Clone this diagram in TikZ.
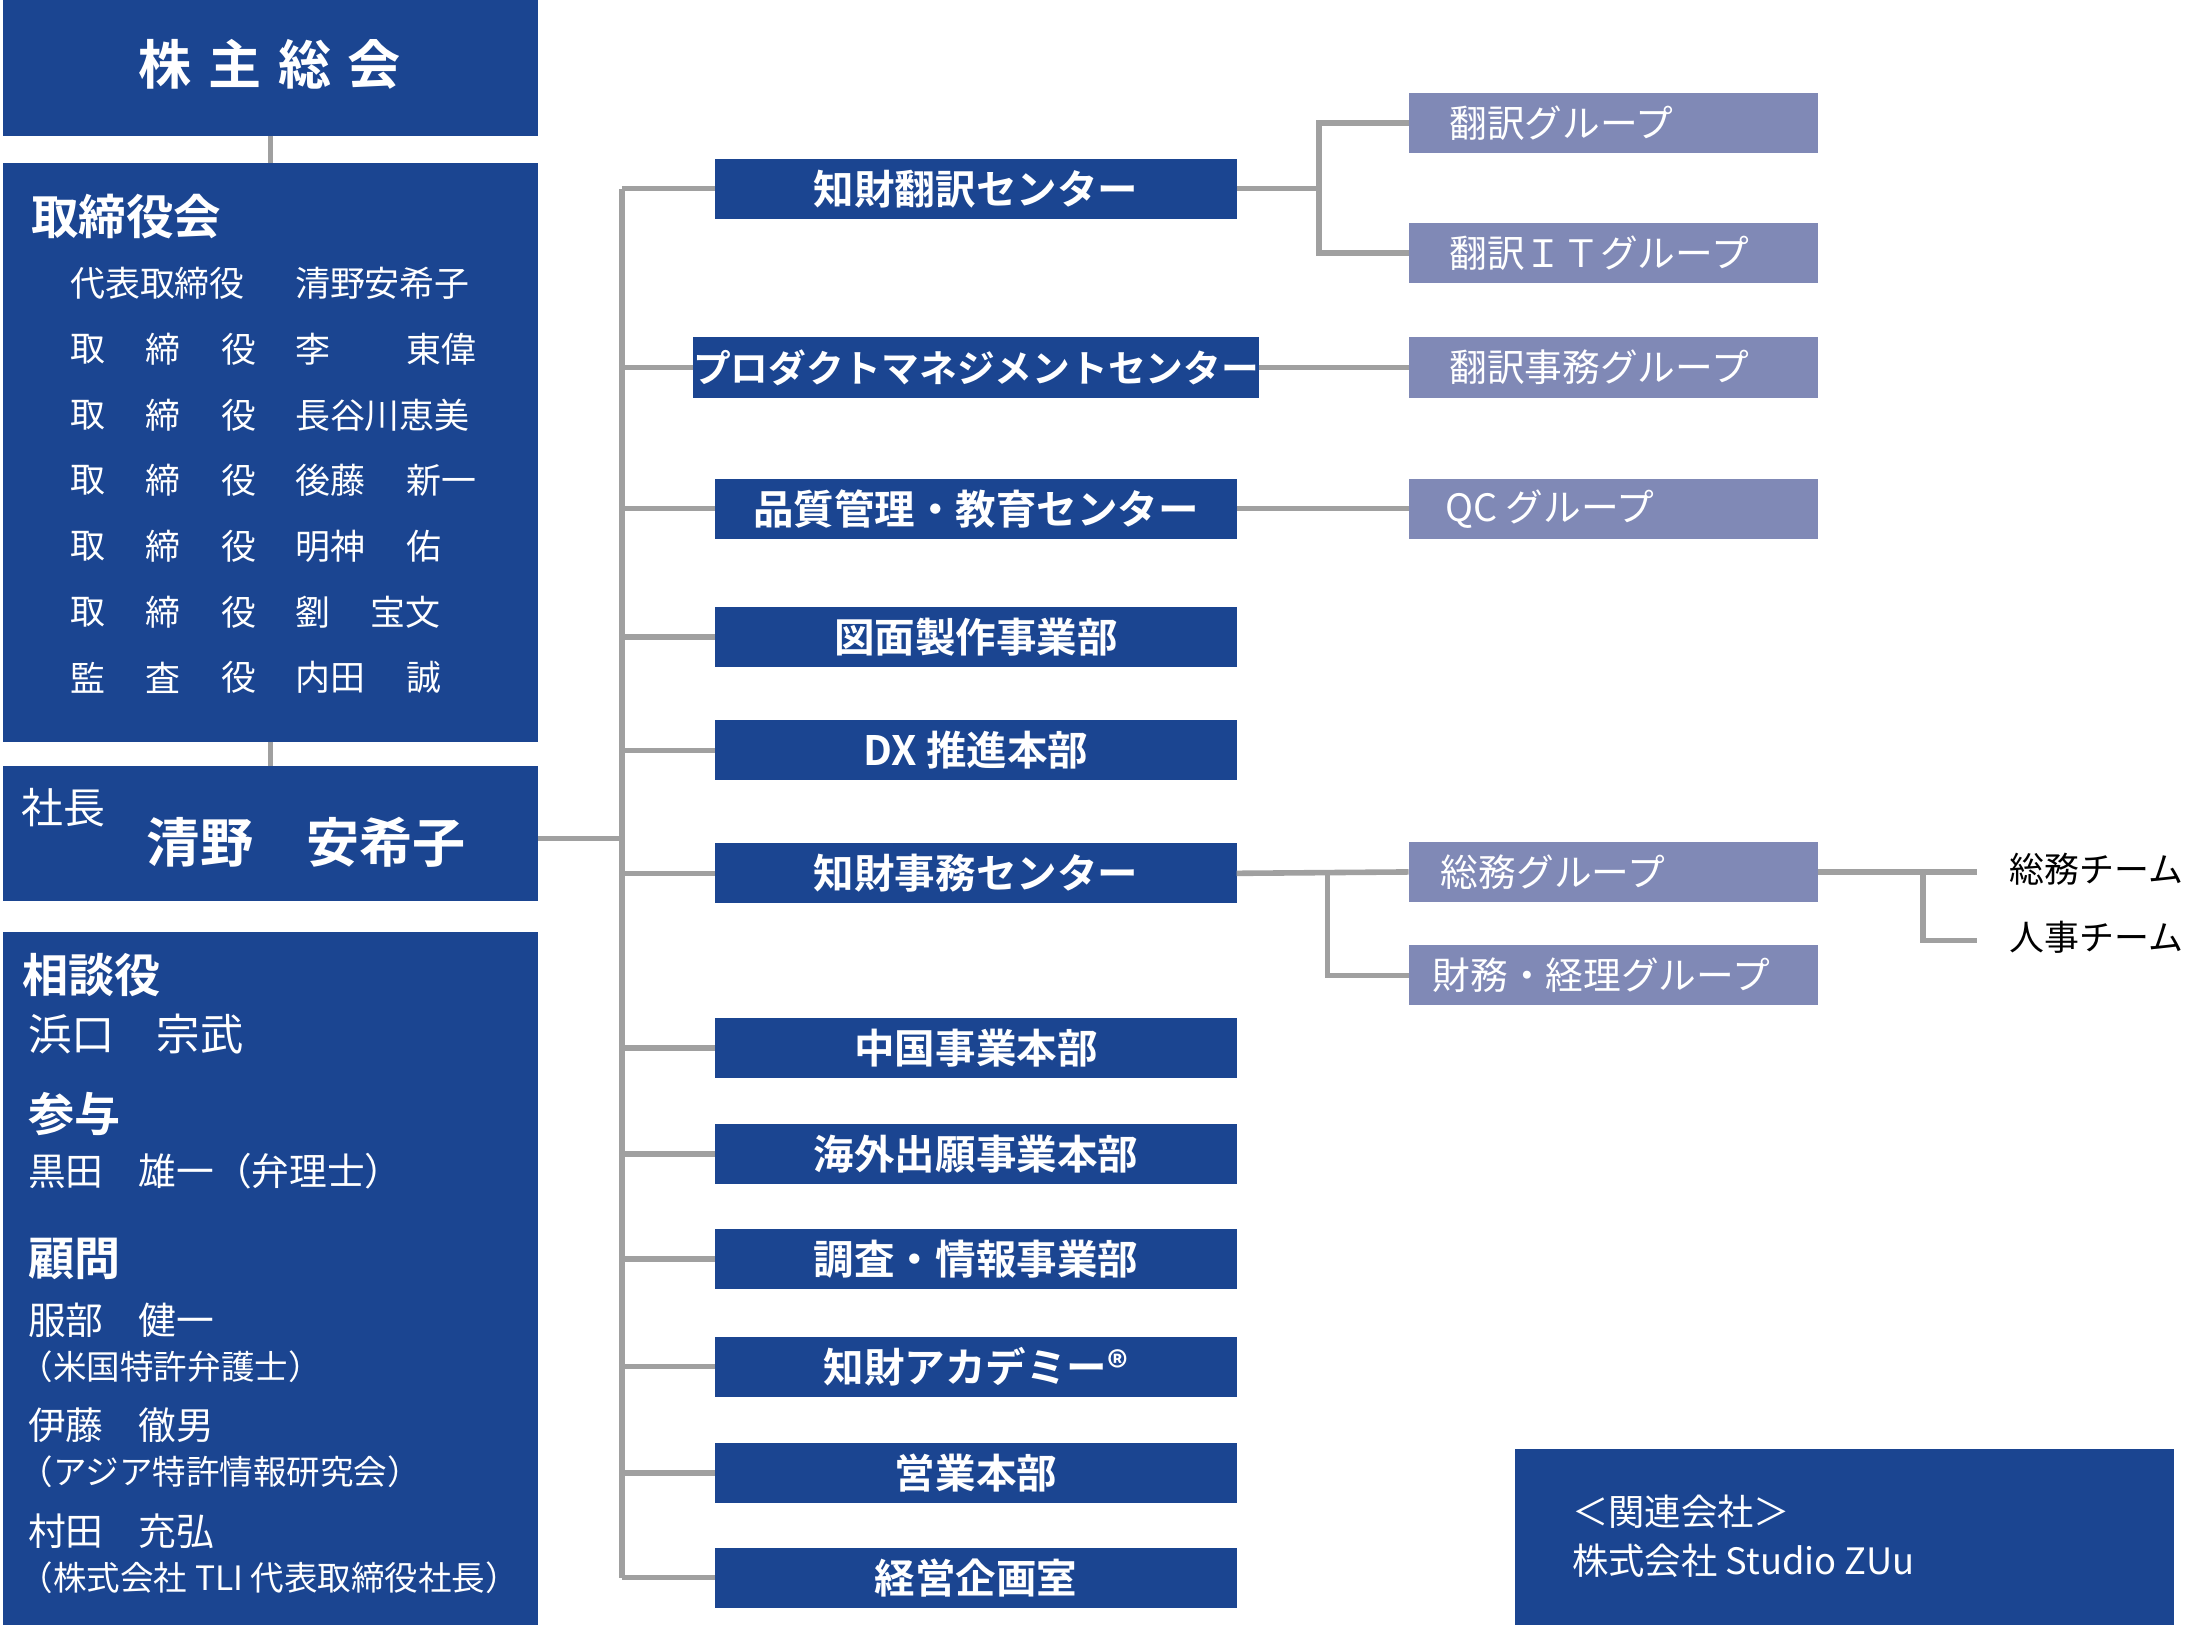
\documentclass[tikz,border=0pt]{standalone}
\usepackage{fontspec}
\setmainfont{Noto Sans CJK JP}
\newfontfamily\jpb{Noto Sans CJK JP Bold}
\definecolor{dblue}{HTML}{1B4591}
\definecolor{lgrp}{HTML}{8089B6}
\definecolor{lgray}{HTML}{A0A0A0}
\begin{document}
\begin{tikzpicture}[x=1pt,y=-1pt,
 blk/.style={fill=dblue,draw=none,inner sep=0pt,outer sep=0pt},
 ctr/.style={blk,minimum width=373pt,minimum height=43pt,text=white,font=\jpb\fontsize{29}{29}\selectfont},
 grp/.style={fill=lgrp,draw=none,inner sep=0pt,outer sep=0pt,minimum width=293pt,minimum height=43pt},
 gtx/.style={anchor=west,text=white,font=\fontsize{27}{27}\selectfont,inner sep=0pt},
 wt/.style={anchor=west,text=white,inner sep=0pt},
 ln/.style={draw=lgray,line width=4pt}]
\useasboundingbox (0,0) rectangle (1568,1165);
% left column
\node[blk,anchor=north west,minimum width=383pt,minimum height=97pt] (shu) at (2,0) {};
\node[text=white,font=\jpb\fontsize{38}{38}\selectfont] (shut) at (193,46) {株\hspace{12pt}主\hspace{12pt}総\hspace{12pt}会};
\node[blk,anchor=north west,minimum width=383pt,minimum height=414pt] (tor) at (2,117) {};
\node[blk,anchor=north west,minimum width=383pt,minimum height=97pt] (sha) at (2,548) {};
\node[blk,anchor=north west,minimum width=383pt,minimum height=496pt] (sod) at (2,667) {};
\draw[ln] (shu.south) -- (tor.north);
\draw[ln] (tor.south) -- (sha.north);
% board text
\node[wt,font=\jpb\fontsize{34}{34}\selectfont] (t0) at (22,155) {取締役会};
\begin{scope}[every node/.style={wt,font=\fontsize{25}{25}\selectfont}]
\node (r1a) at (50,203) {代表取締役};
\node (r1b) at (211,203) {清野安希子};
\foreach \y/\a/\b/\bx [count=\i] in {250/李/東偉/291,297/長谷川恵美//291,344/後藤/新一/291,391/明神/佑/291,438/劉/宝文/265} {
 \node (ra\i) at (50,\y) {取};
 \node (rb\i) at (104,\y) {締};
 \node (rc\i) at (158,\y) {役};
 \node (rd\i) at (211,\y) {\a};
 \node (re\i) at (\bx,\y) {\b};
}
\node (k1) at (50,485) {監}; \node (k2) at (104,485) {査}; \node (k3) at (158,485) {役};
\node (k4) at (211,485) {内田}; \node (k5) at (291,485) {誠};
\end{scope}
\node[wt,font=\fontsize{30}{30}\selectfont] (s1) at (15,578) {社長};
\node[wt,font=\jpb\fontsize{38}{38}\selectfont] (s2) at (105,603) {清野\hspace{38pt}安希子};
% advisors
\node[wt,font=\jpb\fontsize{33}{33}\selectfont] (a1) at (16,698) {相談役};
\node[wt,font=\fontsize{31}{31}\selectfont] (a2) at (20,740) {浜口\hspace{30pt}宗武};
\node[wt,font=\jpb\fontsize{33}{33}\selectfont] (a3) at (20,797) {参与};
\node[wt,font=\fontsize{27}{27}\selectfont] (a4) at (20,838) {黒田\hspace{25pt}雄一（弁理士）};
\node[wt,font=\jpb\fontsize{33}{33}\selectfont] (a5) at (20,901) {顧問};
\node[wt,font=\fontsize{27}{27}\selectfont] (a6) at (20,945) {服部\hspace{25pt}健一};
\node[wt,font=\fontsize{24}{24}\selectfont] (a7) at (14,978) {（米国特許弁護士）};
\node[wt,font=\fontsize{27}{27}\selectfont] (a8) at (20,1020) {伊藤\hspace{25pt}徹男};
\node[wt,font=\fontsize{24}{24}\selectfont] (a9) at (14,1053) {（アジア特許情報研究会）};
\node[wt,font=\fontsize{27}{27}\selectfont] (a10) at (20,1096) {村田\hspace{25pt}充弘};
\node[wt,font=\fontsize{24}{24}\selectfont] (a11) at (14,1129) {（株式会社 TLI\ 代表取締役社長）};
% trunk
\coordinate (tt) at (445,135);
\coordinate (tb) at (445,1129);
\coordinate (tm) at (445,600);
\draw[ln] (tt) -- (tb);
\draw[ln] (sha.east |- tm) -- (tm);
% centers
\foreach \n/\y/\t in {c1/135/知財翻訳センター,c2/263/{\fontsize{27}{27}\selectfont プロダクトマネジメントセンター},c3/364/品質管理・教育センター,c4/456/図面製作事業部,c5/537/DX 推進本部,c6/625/知財事務センター,c7/750/中国事業本部,c8/826/海外出願事業本部,c9/901/調査・情報事業部,c10/978/知財アカデミー®,c11/1054/営業本部,c12/1129/経営企画室} {
 \node[ctr] (\n) at (698.5,\y) {\t};
 \draw[ln] (445,\y) -- (\n.west);
}
% groups
\foreach \n/\y/\t in {g1/88/翻訳グループ,g2/181/翻訳ＩＴグループ,g3/263/翻訳事務グループ,g4/364/QC グループ,g5/624/総務グループ,g6/698/財務・経理グループ} {
 \node[grp] (\n) at (1154.5,\y) {};
}
\node[gtx] (g1t) at (1037,88) {翻訳グループ};
\node[gtx] (g2t) at (1037,181) {翻訳ＩＴグループ};
\node[gtx] (g3t) at (1037,263) {翻訳事務グループ};
\node[gtx] (g4t) at (1034,364) {QC グループ};
\node[gtx] (g5t) at (1031,624) {総務グループ};
\node[gtx] (g6t) at (1025,698) {財務・経理グループ};
\coordinate (j1) at (944,135);
\draw[ln] (c1.east) -- (j1);
\draw[ln] (g1.west) -| (j1) |- (g2.west);
\draw[ln] (c2.east) -- (g3.west);
\draw[ln] (c3.east) -- (g4.west);
\coordinate (j2) at (950,625);
\draw[ln] (c6.east) -- (g5.west);
\draw[ln] (j2) |- (g6.west);
% teams
\node[anchor=west,inner sep=0pt,font=\fontsize{25}{25}\selectfont] (tm1) at (1438,622) {総務チーム};
\node[anchor=west,inner sep=0pt,font=\fontsize{25}{25}\selectfont] (tm2) at (1438,671) {人事チーム};
\coordinate (j3) at (1376,624);
\coordinate (e1) at (1415,624);
\coordinate (e2) at (1415,673);
\draw[ln] (g5.east) -- (e1);
\draw[ln] (j3) |- (e2);
% related
\node[blk,anchor=north west,minimum width=472pt,minimum height=126pt] (rel) at (1084,1037) {};
\node[wt,font=\fontsize{26}{26}\selectfont] (rel1) at (1125,1082) {＜関連会社＞};
\node[wt,font=\fontsize{26}{26}\selectfont] (rel2) at (1125,1117) {株式会社 Studio ZUu};
\end{tikzpicture}
\end{document}
